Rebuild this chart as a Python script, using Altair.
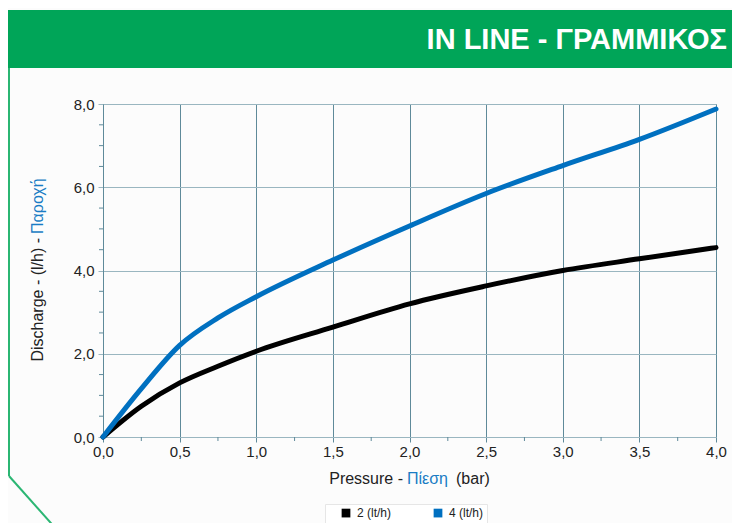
import altair as alt
import pandas as pd

# ---- data ----
pressure = [0.0, 0.25, 0.5, 0.75, 1.0, 1.5, 2.0, 2.5, 3.0, 3.5, 4.0]
q_2lth = [0.0, 0.74, 1.30, 1.70, 2.06, 2.64, 3.20, 3.63, 4.00, 4.28, 4.55]
q_4lth = [0.0, 1.16, 2.20, 2.86, 3.37, 4.25, 5.07, 5.85, 6.52, 7.15, 7.88]
series_names = ["2 (lt/h)", "4 (lt/h)"]
series_colors = ["#000000", "#0070c0"]
x_major = [0.0, 0.5, 1.0, 1.5, 2.0, 2.5, 3.0, 3.5, 4.0]
x_minor = [0.25, 0.75, 1.25, 1.75, 2.25, 2.75, 3.25, 3.75]
y_major = [0, 2, 4, 6, 8]
y_minor = [0.5, 1, 1.5, 2.5, 3, 3.5, 4.5, 5, 5.5, 6.5, 7, 7.5]
title_text = "IN LINE - ΓΡΑΜΜΙΚΟΣ"

rows = []
for p, a, b in zip(pressure, q_2lth, q_4lth):
    rows.append({"p": p, "q": a, "s": series_names[0]})
    rows.append({"p": p, "q": b, "s": series_names[1]})
df = pd.DataFrame(rows)

W, H = 613, 333
FONT = "Liberation Sans"
GRID_X = "#5f8a9a"
GRID_Y = "#9ab6c0"
GREEN = "#00a558"
BLUE = "#1a7cc4"

comma = "replace(format(datum.value, '.1f'), '.', ',')"

xs = alt.Scale(domain=[0, 4], nice=False, zero=False)
ys = alt.Scale(domain=[0, 8], nice=False)

lines = alt.Chart(df).mark_line(
    strokeWidth=5, interpolate="monotone", strokeCap="round", strokeJoin="round"
).encode(
    x=alt.X("p:Q", scale=xs,
            axis=alt.Axis(values=x_major, labelExpr=comma, title=None,
                          grid=True, gridColor=GRID_X, gridOpacity=1,
                          domainColor=GRID_Y, tickColor=GRID_X, tickSize=5,
                          labelFontSize=15, labelColor="#222222", labelFont=FONT,
                          labelPadding=2, labelFlush=False)),
    y=alt.Y("q:Q", scale=ys,
            axis=alt.Axis(values=y_major, labelExpr=comma, title=None,
                          grid=True, gridColor=GRID_Y, gridOpacity=1,
                          domainColor=GRID_X, tickColor=GRID_Y, tickSize=5,
                          labelFontSize=15, labelColor="#222222", labelFont=FONT,
                          labelPadding=4)),
    color=alt.Color("s:N", scale=alt.Scale(domain=series_names, range=series_colors),
                    legend=alt.Legend(title=None, orient="none", direction="horizontal",
                                      legendX=222, legendY=400,
                                      fillColor="#ffffff", strokeColor="#e6e6e6",
                                      padding=3, symbolType="square", symbolSize=14,
                                      symbolStrokeWidth=5, labelFontSize=12,
                                      labelFont=FONT, labelColor="#222222",
                                      columnPadding=28, symbolOffset=12,
                                      labelOffset=5)),
)

xminor = alt.Chart(pd.DataFrame({"p": x_minor})).mark_rule(
    color=GRID_X, strokeWidth=1).encode(
    x=alt.X("p:Q", scale=xs), y=alt.value(H), y2=alt.value(H + 4))

yminor = alt.Chart(pd.DataFrame({"q": y_minor})).mark_rule(
    color=GRID_X, strokeWidth=1).encode(
    y=alt.Y("q:Q", scale=ys), x=alt.value(-4), x2=alt.value(0))

banner = alt.Chart(pd.DataFrame({"a": [0]})).mark_rect(color=GREEN).encode(
    x=alt.value(-95), x2=alt.value(W + 16), y=alt.value(-94), y2=alt.value(-36))

title = alt.Chart(pd.DataFrame({"t": [title_text]})).mark_text(
    font=FONT, fontSize=29, fontWeight="bold", color="#ffffff",
    align="right", baseline="middle").encode(
    text="t:N", x=alt.value(624), y=alt.value(-64))

edge_v = alt.Chart(pd.DataFrame({"a": [0]})).mark_rule(
    color="#2bb673", strokeWidth=2).encode(
    x=alt.value(-94), y=alt.value(-36), y2=alt.value(372))

edge_d = alt.Chart(pd.DataFrame({"a": [0]})).mark_rule(
    color="#2bb673", strokeWidth=2).encode(
    x=alt.value(-94), y=alt.value(372), x2=alt.value(-45), y2=alt.value(427))

xt1 = alt.Chart(pd.DataFrame({"t": ["Pressure -"]})).mark_text(
    font=FONT, fontSize=16, color="#222222", align="right", baseline="middle").encode(
    text="t:N", x=alt.value(300), y=alt.value(375))
xt2 = alt.Chart(pd.DataFrame({"t": ["Πίεση"]})).mark_text(
    font=FONT, fontSize=16, color=BLUE, align="left", baseline="middle").encode(
    text="t:N", x=alt.value(304), y=alt.value(375))
xt3 = alt.Chart(pd.DataFrame({"t": ["(bar)"]})).mark_text(
    font=FONT, fontSize=16, color="#222222", align="left", baseline="middle").encode(
    text="t:N", x=alt.value(353), y=alt.value(375))

yt1 = alt.Chart(pd.DataFrame({"t": ["Discharge - (l/h) -"]})).mark_text(
    font=FONT, fontSize=16, color="#222222", align="right", baseline="middle",
    angle=270).encode(
    text="t:N", x=alt.value(-65), y=alt.value(134))
yt2 = alt.Chart(pd.DataFrame({"t": ["Παροχή"]})).mark_text(
    font=FONT, fontSize=16, color=BLUE, align="left", baseline="middle",
    angle=270).encode(
    text="t:N", x=alt.value(-65), y=alt.value(130))

chart = alt.layer(
    banner, title, edge_v, edge_d, xminor, yminor, lines, xt1, xt2, xt3, yt1, yt2
).properties(
    width=W, height=H,
    padding={"left": 95, "top": 96, "right": 16, "bottom": 86},
    autosize=alt.AutoSizeParams(type="none"),
    background="#fcfcfc",
).configure_view(stroke=GRID_X, strokeWidth=1)

chart.save("out.html", embed_options={"renderer": "svg", "actions": False})
